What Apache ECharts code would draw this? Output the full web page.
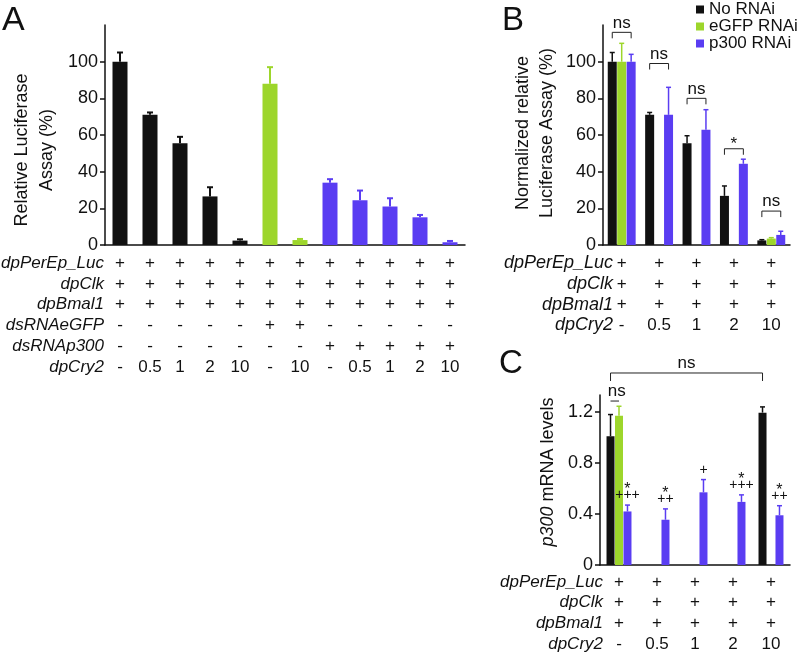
<!DOCTYPE html>
<html><head><meta charset="utf-8">
<script src="https://cdn.jsdelivr.net/npm/echarts@6/dist/echarts.min.js"></script>
<style>html,body{margin:0;padding:0;background:#fff}#c{width:800px;height:655px}</style>
</head><body><div id="c"></div>
<script>
const FONT = '"Liberation Sans", Arial, Helvetica, sans-serif';
const INK = '#111111';
const COLORS = { none: '#111111', egfp: '#9dd62b', p300: '#5a3df2' };
const SERIES_NAMES = ['No RNAi', 'eGFP RNAi', 'p300 RNAi'];

// ---------- Panel A ----------
const aRowNames = ['dpPerEp_Luc', 'dpClk', 'dpBmal1', 'dsRNAeGFP', 'dsRNAp300', 'dpCry2'];
const aPerEpLuc = ['+', '+', '+', '+', '+', '+', '+', '+', '+', '+', '+', '+'];
const aClk      = ['+', '+', '+', '+', '+', '+', '+', '+', '+', '+', '+', '+'];
const aBmal1    = ['+', '+', '+', '+', '+', '+', '+', '+', '+', '+', '+', '+'];
const aDsEgfp   = ['-', '-', '-', '-', '-', '+', '+', '-', '-', '-', '-', '-'];
const aDsP300   = ['-', '-', '-', '-', '-', '-', '-', '+', '+', '+', '+', '+'];
const aCry2     = ['-', '0.5', '1', '2', '10', '-', '10', '-', '0.5', '1', '2', '10'];
const aGroup    = ['none', 'none', 'none', 'none', 'none', 'egfp', 'egfp', 'p300', 'p300', 'p300', 'p300', 'p300'];
const aValues   = [100, 71, 55.5, 26.5, 2.4, 88, 2.7, 34, 24.4, 21, 15.1, 1.5];
const aErrTop   = [105, 72.3, 59, 31.5, 3.1, 97, 3.3, 35.9, 29.7, 25.5, 16.4, 2.2];
const aYTicks   = [0, 20, 40, 60, 80, 100];

// ---------- Panel B ----------
const bRowNames = ['dpPerEp_Luc', 'dpClk', 'dpBmal1', 'dpCry2'];
const bCry2     = ['-', '0.5', '1', '2', '10'];
const bPerEpLuc = ['+', '+', '+', '+', '+'];
const bClk      = ['+', '+', '+', '+', '+'];
const bBmal1    = ['+', '+', '+', '+', '+'];
const bNoRNAi    = [100, 71, 55.5, 26.8, 2.5];
const bNoRNAiErr = [105, 72.3, 59.6, 32.2, 2.9];
const bEgfp      = [100, null, null, null, 3.5];
const bEgfpErr   = [110, null, null, null, 4];
const bP300      = [100, 71, 62.8, 44.3, 5.5];
const bP300Err   = [104, 86, 73.8, 46.8, 7.5];
const bSigLabels = ['ns', 'ns', 'ns', '*', 'ns'];
const bSigY      = [116, 99, 80, 52.5, 18.5];
const bYTicks    = [0, 20, 40, 60, 80, 100];

// ---------- Panel C ----------
const cRowNames = ['dpPerEp_Luc', 'dpClk', 'dpBmal1', 'dpCry2'];
const cCry2     = ['-', '0.5', '1', '2', '10'];
const cPerEpLuc = ['+', '+', '+', '+', '+'];
const cClk      = ['+', '+', '+', '+', '+'];
const cBmal1    = ['+', '+', '+', '+', '+'];
const cNoRNAi    = [1.01, null, null, null, 1.195];
const cNoRNAiErr = [1.18, null, null, null, 1.24];
const cEgfp      = [1.17, null, null, null, null];
const cEgfpErr   = [1.245, null, null, null, null];
const cP300      = [0.42, 0.355, 0.57, 0.495, 0.39];
const cP300Err   = [0.47, 0.44, 0.67, 0.55, 0.465];
const cStars     = ['*', '*', '', '*', '*'];
const cPlus      = ['+++', '++', '+', '+++', '++'];
const cOverall   = [0, 4, 1.506];   // from group, to group, y value
const cPair      = [0, 1.286];      // group, y value (No RNAi vs eGFP RNAi)
const cYTicks    = [0, 0.4, 0.8, 1.2];

// ---------- helpers ----------
const B_OFF = 9 * 1.05;
const C_OFF = 8 * 1.06;

function errData(vals, errs) {
  const d = [];
  vals.forEach((v, i) => { if (v != null) d.push([i, v, errs[i]]); });
  return d;
}
function errorSeries(axis, vals, errs, offset, colorOf, capHalf, width) {
  return {
    type: 'custom', xAxisIndex: axis, yAxisIndex: axis, z: 5, silent: true,
    data: errData(vals, errs),
    renderItem: function (params, api) {
      const c = api.value(0), v = api.value(1), e = api.value(2);
      const p0 = api.coord([c, v]), p1 = api.coord([c, e]);
      const x = p0[0] + offset;
      const col = colorOf(c);
      return { type: 'group', children: [
        { type: 'line', shape: { x1: x, y1: p0[1], x2: x, y2: p1[1] }, style: { stroke: col, lineWidth: width } },
        { type: 'line', shape: { x1: x - capHalf, y1: p1[1], x2: x + capHalf, y2: p1[1] }, style: { stroke: col, lineWidth: width } }
      ]};
    }
  };
}
function txt(text, x, y, size, align, valign, extra) {
  return Object.assign({ type: 'text', x: x, y: y, style: {
    text: text, x: 0, y: 0, fontSize: size, fontFamily: FONT, fill: INK,
    align: align, verticalAlign: valign, textAlign: align, textVerticalAlign: valign
  }}, extra || {});
}
function catAxis(gridIndex, data, rows, margin, fontSize) {
  return {
    type: 'category', gridIndex: gridIndex, data: data,
    axisLine: { lineStyle: { color: INK, width: 1.5 } },
    axisTick: { show: false }, splitLine: { show: false },
    axisLabel: {
      interval: 0, margin: margin, fontSize: fontSize, lineHeight: 20.7, color: INK, fontFamily: FONT,
      formatter: function (value, index) { return rows.map(r => r[index]).join('\n'); }
    }
  };
}
function valAxis(gridIndex, max, ticks, fmt) {
  return {
    type: 'value', gridIndex: gridIndex, min: 0, max: max,
    axisLine: { show: true, lineStyle: { color: INK, width: 1.5 } },
    axisTick: { show: true, length: 5, customValues: ticks, lineStyle: { color: INK, width: 1.5 } },
    axisLabel: { customValues: ticks, fontSize: 18, color: INK, margin: 7, fontFamily: FONT, formatter: fmt },
    splitLine: { show: false }
  };
}

const chart = echarts.init(document.getElementById('c'), null, { renderer: 'canvas' });

const option = {
  animation: false,
  backgroundColor: '#ffffff',
  textStyle: { fontFamily: FONT, color: INK },
  legend: {
    data: SERIES_NAMES, orient: 'vertical', left: 696, top: 1, padding: 0,
    itemWidth: 8, itemHeight: 8, itemGap: 0, icon: 'rect',
    textStyle: { fontSize: 17, lineHeight: 17, color: INK, fontFamily: FONT, overflow: 'none' }
  },
  grid: [
    { left: 105, top: 25, width: 360, height: 220 },
    { left: 603, top: 25, width: 187, height: 220 },
    { left: 600, top: 395, width: 190, height: 170 }
  ],
  xAxis: [
    catAxis(0, aCry2.map((_, i) => 'c' + i), [aPerEpLuc, aClk, aBmal1, aDsEgfp, aDsP300, aCry2], 8, 17),
    catAxis(1, bCry2, [bPerEpLuc, bClk, bBmal1, bCry2], 8, 17),
    catAxis(2, cCry2, [cPerEpLuc, cClk, cBmal1, cCry2], 6.5, 17)
  ],
  yAxis: [
    valAxis(0, 120, aYTicks, v => String(v)),
    valAxis(1, 120, bYTicks, v => String(v)),
    valAxis(2, 4 / 3, cYTicks, v => v === 0 ? '0' : v.toFixed(1))
  ],
  series: [
    // Panel A
    { type: 'bar', name: 'A', xAxisIndex: 0, yAxisIndex: 0, barWidth: 15,
      data: aValues.map((v, i) => ({ value: v, itemStyle: { color: COLORS[aGroup[i]] } })) },
    errorSeries(0, aValues, aErrTop, 0, c => COLORS[aGroup[c]], 3, 2),
    // Panel B
    { type: 'bar', name: SERIES_NAMES[0], xAxisIndex: 1, yAxisIndex: 1, barWidth: 9, barGap: '5%', itemStyle: { color: COLORS.none }, data: bNoRNAi },
    { type: 'bar', name: SERIES_NAMES[1], xAxisIndex: 1, yAxisIndex: 1, barWidth: 9, barGap: '5%', itemStyle: { color: COLORS.egfp }, data: bEgfp },
    { type: 'bar', name: SERIES_NAMES[2], xAxisIndex: 1, yAxisIndex: 1, barWidth: 9, barGap: '5%', itemStyle: { color: COLORS.p300 }, data: bP300 },
    errorSeries(1, bNoRNAi, bNoRNAiErr, -B_OFF, () => COLORS.none, 2.5, 1.5),
    errorSeries(1, bEgfp, bEgfpErr, 0, () => COLORS.egfp, 2.5, 1.5),
    errorSeries(1, bP300, bP300Err, B_OFF, () => COLORS.p300, 2.5, 1.5),
    { type: 'custom', xAxisIndex: 1, yAxisIndex: 1, z: 6, silent: true,
      data: bSigY.map((y, i) => [i, y]),
      renderItem: function (params, api) {
        const i = api.value(0), p = api.coord([i, api.value(1)]);
        const x1 = p[0] - B_OFF, x2 = p[0] + B_OFF, y = p[1];
        const lab = bSigLabels[i];
        return { type: 'group', children: [
          { type: 'polyline', shape: { points: [[x1, y + 6], [x1, y], [x2, y], [x2, y + 6]] }, style: { stroke: '#222', fill: null, lineWidth: 1 } },
          txt(lab, p[0], lab === '*' ? y + 4 : y - 1, 17, 'center', 'bottom')
        ]};
      }
    },
    // Panel C
    { type: 'bar', name: SERIES_NAMES[0], xAxisIndex: 2, yAxisIndex: 2, barWidth: 8, barGap: '6%', itemStyle: { color: COLORS.none }, data: cNoRNAi },
    { type: 'bar', name: SERIES_NAMES[1], xAxisIndex: 2, yAxisIndex: 2, barWidth: 8, barGap: '6%', itemStyle: { color: COLORS.egfp }, data: cEgfp },
    { type: 'bar', name: SERIES_NAMES[2], xAxisIndex: 2, yAxisIndex: 2, barWidth: 8, barGap: '6%', itemStyle: { color: COLORS.p300 }, data: cP300 },
    errorSeries(2, cNoRNAi, cNoRNAiErr, -C_OFF, () => COLORS.none, 2.5, 1.5),
    errorSeries(2, cEgfp, cEgfpErr, 0, () => COLORS.egfp, 2.5, 1.5),
    errorSeries(2, cP300, cP300Err, C_OFF, () => COLORS.p300, 2.5, 1.5),
    { type: 'custom', xAxisIndex: 2, yAxisIndex: 2, z: 6, silent: true,
      data: cP300Err.map((e, i) => [i, e]),
      renderItem: function (params, api) {
        const i = api.value(0), p = api.coord([i, api.value(1)]);
        const x = p[0] + C_OFF;
        return { type: 'group', children: [
          txt(cStars[i], x, p[1] - 15, 16, 'center', 'middle'),
          txt(cPlus[i], x, p[1] - 9.5, 14, 'center', 'middle')
        ]};
      }
    },
    { type: 'custom', xAxisIndex: 2, yAxisIndex: 2, z: 6, silent: true,
      data: [cOverall],
      renderItem: function (params, api) {
        const a = api.coord([api.value(0), api.value(2)]);
        const b = api.coord([api.value(1), api.value(2)]);
        const x1 = a[0] - C_OFF, x2 = b[0] - C_OFF, y = a[1];
        return { type: 'group', children: [
          { type: 'polyline', shape: { points: [[x1, y + 8], [x1, y], [x2, y], [x2, y + 8]] }, style: { stroke: '#222', fill: null, lineWidth: 1 } },
          txt('ns', (x1 + x2) / 2, y - 1, 17, 'center', 'bottom')
        ]};
      }
    },
    { type: 'custom', xAxisIndex: 2, yAxisIndex: 2, z: 6, silent: true,
      data: [cPair],
      renderItem: function (params, api) {
        const p = api.coord([api.value(0), api.value(1)]);
        const x1 = p[0] - C_OFF, x2 = p[0], y = p[1];
        return { type: 'group', children: [
          { type: 'line', shape: { x1: x1, y1: y, x2: x2, y2: y }, style: { stroke: '#222', lineWidth: 1 } },
          txt('ns', (x1 + x2) / 2 + 2, y - 1, 17, 'center', 'bottom')
        ]};
      }
    }
  ],
  graphic: { elements: [
    txt('A', 2, 21, 34, 'left', 'middle'),
    txt('B', 502, 21, 33, 'left', 'middle'),
    txt('C', 499, 364, 33, 'left', 'middle'),
    txt('Relative Luciferase\nAssay (%)', 34.5, 150, 18, 'center', 'middle', { rotation: Math.PI / 2 }),
    txt('Normalized relative\nLuciferase Assay (%)', 535, 133, 18, 'center', 'middle', { rotation: Math.PI / 2 }),
    { type: 'text', x: 548, y: 472, rotation: Math.PI / 2, style: {
      text: '{it|p300} mRNA levels', x: 0, y: 0, fontSize: 18, fontFamily: FONT, fill: INK,
      align: 'center', verticalAlign: 'middle', textAlign: 'center', textVerticalAlign: 'middle',
      rich: { it: { fontStyle: 'italic', fontSize: 18, fontFamily: FONT, fill: INK } }
    }},
    txt(aRowNames.join('\n'), 104, 253, 17, 'right', 'top', {}),
    txt(bRowNames.join('\n'), 613, 253, 18, 'right', 'top', {}),
    txt(cRowNames.join('\n'), 603, 571.5, 17, 'right', 'top', {})
  ]}
};
// italic + line height for table row names
option.graphic.elements.slice(-3).forEach(el => { el.style.fontStyle = 'italic'; el.style.lineHeight = 20.7; });
// two-line axis titles need a line height
option.graphic.elements[3].style.lineHeight = 25;
option.graphic.elements[4].style.lineHeight = 24;
chart.setOption(option);
</script></body></html>
